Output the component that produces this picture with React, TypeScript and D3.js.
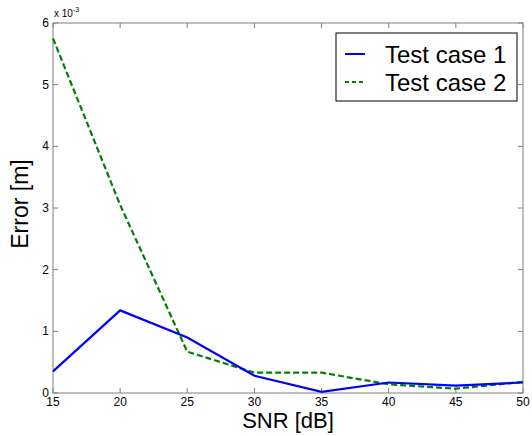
import React, { useEffect, useRef } from 'react';
import * as d3 from 'd3';

const snr = [15, 20, 25, 30, 35, 40, 45, 50];
const case1 = [0.35, 1.34, 0.9, 0.28, 0.02, 0.17, 0.12, 0.17];
const case2 = [5.75, 3.05, 0.67, 0.33, 0.33, 0.14, 0.07, 0.18];
const yTicks = [0, 1, 2, 3, 4, 5, 6];
const seriesNames = ['Test case 1', 'Test case 2'];

const App = () => {
  const ref = useRef<SVGSVGElement>(null);

  useEffect(() => {
    const width = 532;
    const height = 436;
    const left = 53, right = 523, top = 23, bottom = 393;
    const svg = d3.select(ref.current);
    svg.selectAll('*').remove();
    svg.attr('width', width).attr('height', height);

    const x = d3.scaleLinear().domain([15, 50]).range([left, right]);
    const y = d3.scaleLinear().domain([0, 6]).range([bottom, top]);
    const axisColor = '#7f7f7f';
    const font = 'Arial, Liberation Sans, sans-serif';

    svg.append('rect').attr('width', width).attr('height', height).attr('fill', '#fff');

    // box around plot area
    svg.append('rect')
      .attr('x', left).attr('y', top)
      .attr('width', right - left).attr('height', bottom - top)
      .attr('fill', 'none').attr('stroke', axisColor).attr('stroke-width', 1);

    const tl = 5;
    snr.forEach(v => {
      svg.append('line').attr('x1', x(v)).attr('x2', x(v)).attr('y1', bottom).attr('y2', bottom - tl).attr('stroke', axisColor);
      svg.append('line').attr('x1', x(v)).attr('x2', x(v)).attr('y1', top).attr('y2', top + tl).attr('stroke', axisColor);
      svg.append('text').attr('x', x(v)).attr('y', bottom + 13)
        .attr('text-anchor', 'middle').attr('font-family', font).attr('font-size', 12).attr('fill', '#000')
        .text(v);
    });
    yTicks.forEach(v => {
      svg.append('line').attr('x1', left).attr('x2', left + tl).attr('y1', y(v)).attr('y2', y(v)).attr('stroke', axisColor);
      svg.append('line').attr('x1', right).attr('x2', right - tl).attr('y1', y(v)).attr('y2', y(v)).attr('stroke', axisColor);
      svg.append('text').attr('x', left - 4).attr('y', y(v) + 4)
        .attr('text-anchor', 'end').attr('font-family', font).attr('font-size', 12).attr('fill', '#000')
        .text(v);
    });

    // exponent label
    const exp = svg.append('text').attr('x', left + 1).attr('y', 17)
      .attr('font-family', font).attr('font-size', 10).attr('fill', '#000');
    exp.append('tspan').text('x 10');
    exp.append('tspan').attr('dy', -5).attr('font-size', 7).text('-3');

    const line = d3.line<number>().x((d, i) => x(snr[i])).y(d => y(d));

    svg.append('path').datum(case2).attr('d', line)
      .attr('fill', 'none').attr('stroke', '#008000').attr('stroke-width', 2.2)
      .attr('stroke-dasharray', '6,3');
    svg.append('path').datum(case1).attr('d', line)
      .attr('fill', 'none').attr('stroke', '#0000ff').attr('stroke-width', 2.2);

    // axis titles
    svg.append('text').attr('x', (left + right) / 2).attr('y', 428)
      .attr('text-anchor', 'middle').attr('font-family', font).attr('font-size', 22).attr('fill', '#000')
      .text('SNR [dB]');
    svg.append('text')
      .attr('transform', `translate(28,204) rotate(-90)`)
      .attr('text-anchor', 'middle').attr('font-family', font).attr('font-size', 23).attr('fill', '#000')
      .text('Error [m]');

    // legend
    const lg = svg.append('g');
    lg.append('rect').attr('x', 336).attr('y', 33).attr('width', 181).attr('height', 68)
      .attr('fill', '#fff').attr('stroke', '#000').attr('stroke-width', 1);
    const colors = ['#0000ff', '#008000'];
    seriesNames.forEach((name, i) => {
      const ly = 54 + i * 28;
      lg.append('line').attr('x1', 345).attr('x2', 365).attr('y1', ly).attr('y2', ly)
        .attr('stroke', colors[i]).attr('stroke-width', 2)
        .attr('stroke-dasharray', i === 1 ? '4,3' : null);
      lg.append('text').attr('x', 385).attr('y', ly + 9)
        .attr('font-family', font).attr('font-size', 24).attr('fill', '#000')
        .text(name);
    });
  }, []);

  return <svg ref={ref} style={{ position: 'absolute', left: 0, top: 0 }} />;
};

export default App;
